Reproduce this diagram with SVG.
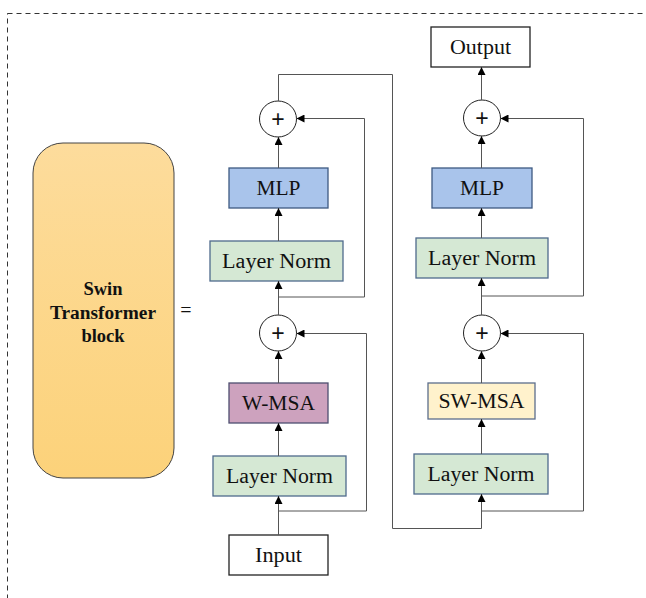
<svg xmlns="http://www.w3.org/2000/svg" width="646" height="598" viewBox="0 0 646 598">
  <defs>
    <linearGradient id="blockFill" x1="0" y1="0" x2="0" y2="1">
      <stop offset="0" stop-color="#FDDC9C"/>
      <stop offset="1" stop-color="#FCD27A"/>
    </linearGradient>
    <marker id="arrow" viewBox="0 0 8 8" refX="8" refY="4" markerWidth="8" markerHeight="8" markerUnits="userSpaceOnUse" orient="auto">
      <path d="M0,0 L8,4 L0,8 Z" fill="#000"/>
    </marker>
  </defs>
  <style>
    .frame { fill: none; stroke: #333; stroke-width: 1; stroke-dasharray: 5 4; }
    .box { stroke-width: 1.3; }
    .norm { fill: #D5E8D4; stroke: #4F6A8C; }
    .mlp { fill: #A9C4EB; stroke: #3E5A82; }
    .wmsa { fill: #CDA2BE; stroke: #4E4F70; }
    .swmsa { fill: #FFF2CC; stroke: #5C6E8C; }
    .io { fill: #FFFFFF; stroke: #222; }
    .sum { fill: #FFFFFF; stroke: #222; stroke-width: 1; }
    .label { font-family: "Liberation Serif", "Times New Roman", serif; font-size: 20px; fill: #111; text-anchor: middle; }
    .plus { font-family: "Liberation Sans", Arial, sans-serif; font-size: 23px; fill: #111; text-anchor: middle; }
    .title { font-family: "Liberation Serif", "Times New Roman", serif; font-size: 18.5px; font-weight: bold; fill: #111; text-anchor: middle; }
    .wire { fill: none; stroke: #555; stroke-width: 1; }
    .arr { marker-end: url(#arrow); }
  </style>

  <rect class="frame" x="7.5" y="13.5" width="700" height="700"/>

  <g id="swin-block">
    <rect x="33" y="143" width="141" height="335" rx="30" ry="30" fill="url(#blockFill)" stroke="#444" stroke-width="1"/>
    <text class="title" x="103" y="295">Swin</text>
    <text class="title" x="103" y="319" textLength="106" lengthAdjust="spacingAndGlyphs">Transformer</text>
    <text class="title" x="103" y="342">block</text>
  </g>
  <g id="equals">
    <text class="label" x="186" y="317">=</text>
  </g>

  <!-- left column -->
  <g id="input">
    <rect class="box io" x="229" y="535" width="99" height="40"/>
    <text class="label" x="278.5" y="562" textLength="47" lengthAdjust="spacingAndGlyphs">Input</text>
  </g>
  <g id="norm1">
    <rect class="box norm" x="213" y="456" width="133" height="40"/>
    <text class="label" x="279.5" y="483" textLength="107" lengthAdjust="spacingAndGlyphs">Layer Norm</text>
  </g>
  <g id="wmsa">
    <rect class="box wmsa" x="229" y="383" width="99" height="40"/>
    <text class="label" x="278.5" y="410" textLength="73" lengthAdjust="spacingAndGlyphs">W-MSA</text>
  </g>
  <g id="sum1">
    <ellipse class="sum" cx="278" cy="333" rx="18.5" ry="18"/>
    <text class="plus" x="278" y="341">+</text>
  </g>
  <g id="norm2">
    <rect class="box norm" x="210" y="241" width="133" height="40"/>
    <text class="label" x="276.5" y="268" textLength="109" lengthAdjust="spacingAndGlyphs">Layer Norm</text>
  </g>
  <g id="mlp1">
    <rect class="box mlp" x="229" y="168" width="99" height="40"/>
    <text class="label" x="278.5" y="195" textLength="44" lengthAdjust="spacingAndGlyphs">MLP</text>
  </g>
  <g id="sum2">
    <ellipse class="sum" cx="278" cy="119" rx="18.5" ry="18"/>
    <text class="plus" x="278" y="127">+</text>
  </g>

  <!-- right column -->
  <g id="norm3">
    <rect class="box norm" x="414" y="454" width="134" height="40"/>
    <text class="label" x="481" y="481" textLength="107" lengthAdjust="spacingAndGlyphs">Layer Norm</text>
  </g>
  <g id="swmsa">
    <rect class="box swmsa" x="428" y="383" width="107" height="36"/>
    <text class="label" x="481.5" y="408" textLength="86" lengthAdjust="spacingAndGlyphs">SW-MSA</text>
  </g>
  <g id="sum3">
    <ellipse class="sum" cx="482" cy="333" rx="18.5" ry="18"/>
    <text class="plus" x="482" y="341">+</text>
  </g>
  <g id="norm4">
    <rect class="box norm" x="416" y="238" width="132" height="40"/>
    <text class="label" x="482" y="265" textLength="108" lengthAdjust="spacingAndGlyphs">Layer Norm</text>
  </g>
  <g id="mlp2">
    <rect class="box mlp" x="432" y="168" width="100" height="40"/>
    <text class="label" x="482" y="195" textLength="44" lengthAdjust="spacingAndGlyphs">MLP</text>
  </g>
  <g id="sum4">
    <ellipse class="sum" cx="482" cy="118" rx="18.5" ry="18"/>
    <text class="plus" x="482" y="126">+</text>
  </g>
  <g id="output">
    <rect class="box io" x="431" y="27" width="99" height="40"/>
    <text class="label" x="480.5" y="54" textLength="61" lengthAdjust="spacingAndGlyphs">Output</text>
  </g>

  <g id="connectors">
    <!-- left column main path -->
    <path class="wire arr" d="M278.5,535 V496"/>
    <path class="wire arr" d="M278.5,456 V423"/>
    <path class="wire arr" d="M278.5,383 V351"/>
    <path class="wire arr" d="M278.5,315 V281"/>
    <path class="wire arr" d="M278.5,241 V208"/>
    <path class="wire arr" d="M278.5,168 V137"/>
    <!-- left residuals -->
    <path class="wire arr" d="M278.5,511 H366.5 V333.5 H296.5"/>
    <path class="wire arr" d="M278.5,297 H364.5 V118.5 H296.5"/>
    <!-- hand-off between blocks -->
    <path class="wire arr" d="M278.5,101 V74.5 H392.5 V528.5 H481.5 V494"/>
    <!-- right column main path -->
    <path class="wire arr" d="M481.5,454 V419"/>
    <path class="wire arr" d="M481.5,383 V351"/>
    <path class="wire arr" d="M481.5,315 V278"/>
    <path class="wire arr" d="M481.5,238 V208"/>
    <path class="wire arr" d="M481.5,168 V136"/>
    <path class="wire arr" d="M481.5,100 V67"/>
    <!-- right residuals -->
    <path class="wire arr" d="M481.5,511 H583.5 V333.5 H500.5"/>
    <path class="wire arr" d="M481.5,296 H583.5 V118.5 H500.5"/>
  </g>
</svg>
